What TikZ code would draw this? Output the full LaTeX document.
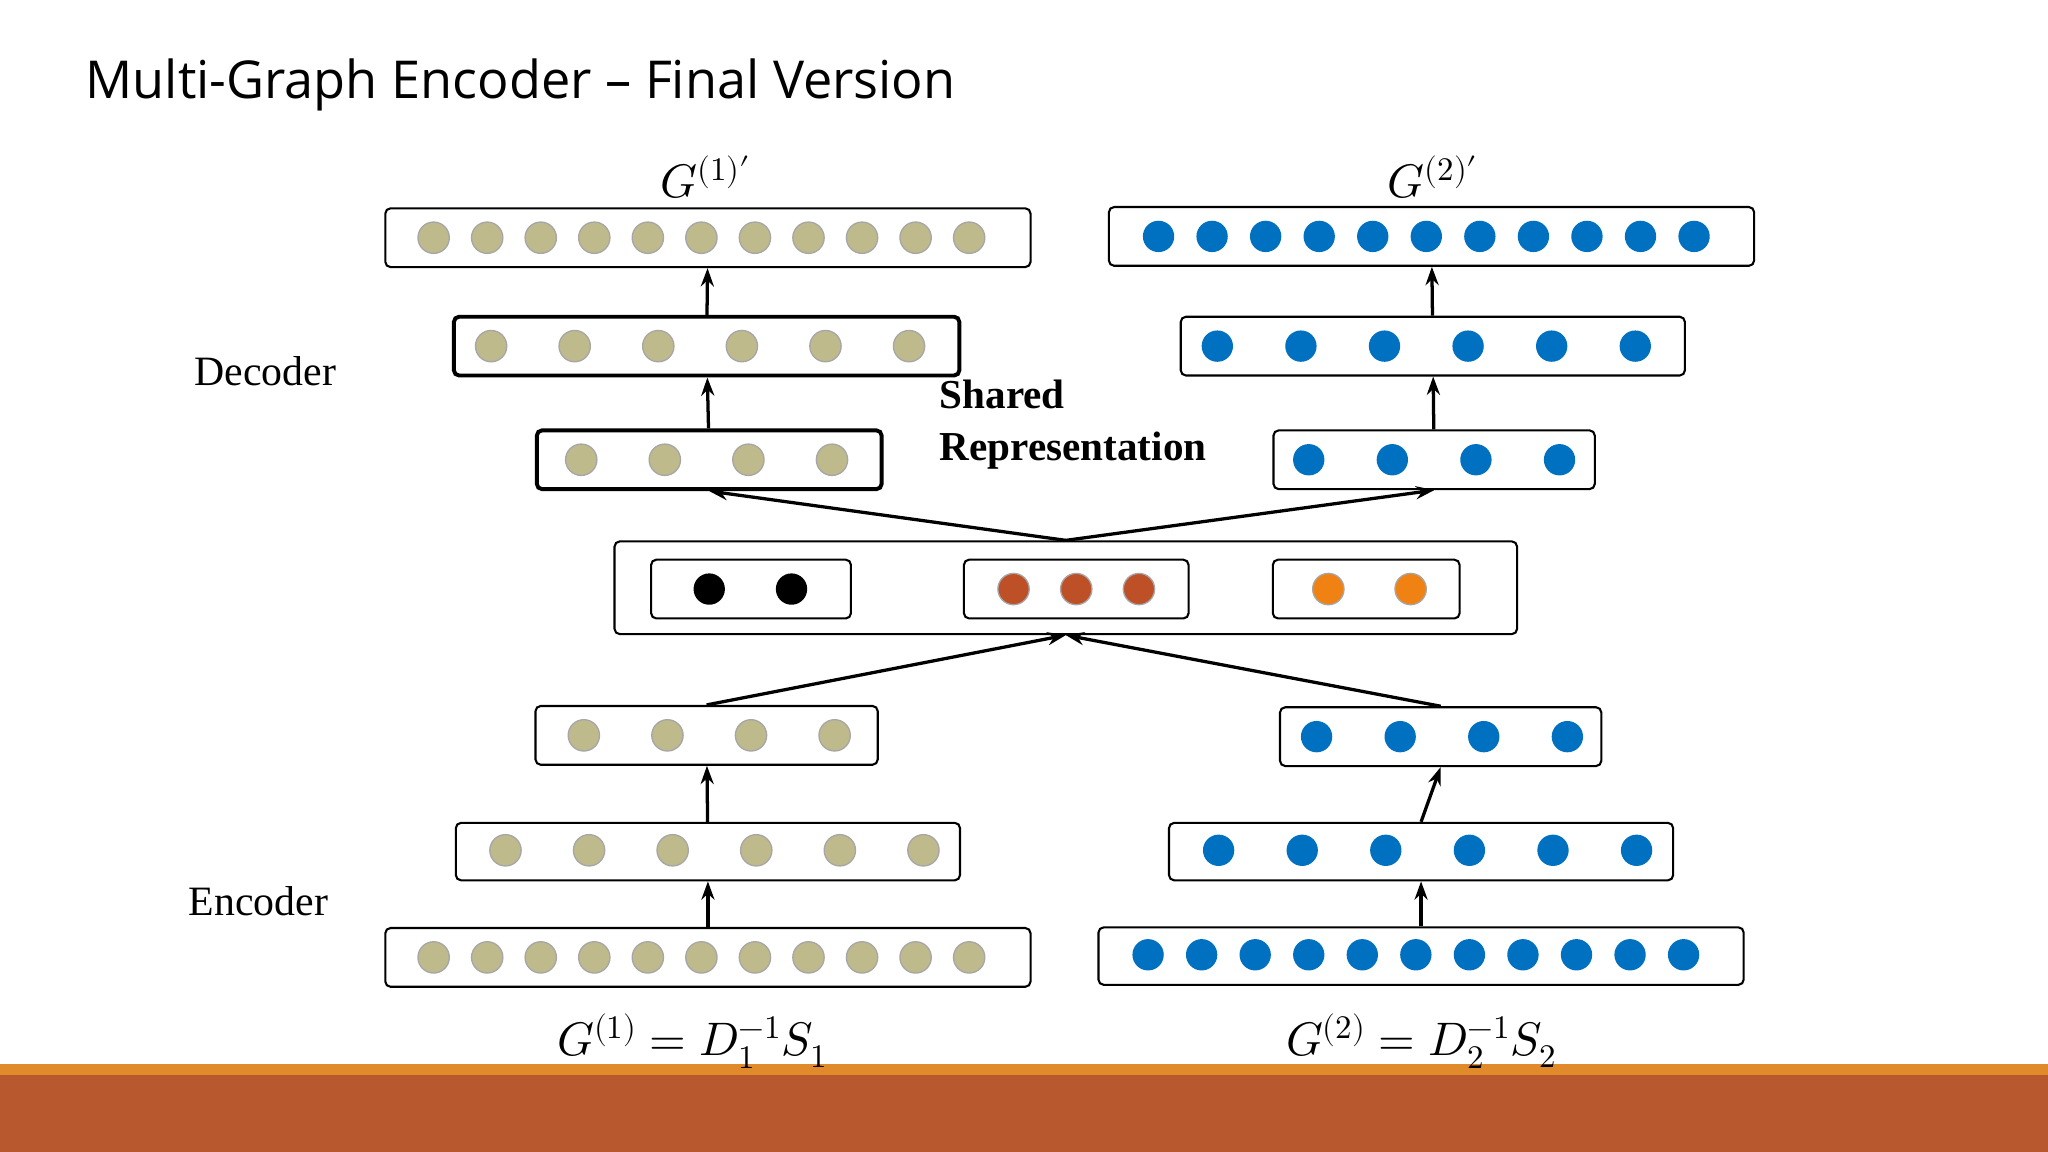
\documentclass[tikz,border=0pt]{standalone}
\usepackage{fontspec}
\usepackage{unicode-math}
\setmainfont{Liberation Serif}
\setmathfont{Latin Modern Math}
\newfontfamily\titlefont{Open Sans}
\usetikzlibrary{arrows.meta,
                positioning
                }
\definecolor{olive}{RGB}{190,186,140}
\definecolor{nblue}{RGB}{0,112,192}
\definecolor{nbrown}{RGB}{190,80,40}
\definecolor{norange}{RGB}{240,130,20}
\definecolor{barorange}{RGB}{224,138,44}
\definecolor{barbrown}{RGB}{184,88,46}
% row of circles: centre y, first x, step, count, style
\newcommand\dotrow[5]{\foreach \i in {1,...,#4}
    \fill[#5] ({#2+(\i-1)*#3},#1) circle (12);}
\begin{document}
\begin{tikzpicture}[x=1pt, y=-1pt,
     box/.style = {draw, rounded corners=4pt, line width=1.6pt, inner sep=0pt},
    tbox/.style = {box, line width=3pt},
     gdt/.style = {draw=gray!70, line width=1pt, fill=olive},
     bdt/.style = {fill=nblue},
     arr/.style = {-{Stealth[length=14pt, width=10pt]}, line width=2.5pt},
     lbl/.style = {font=\fontsize{32}{36}\selectfont},
     mth/.style = {font=\fontsize{36}{40}\selectfont}
      ]
    \fill[white] (0,0) rectangle (1568,882);
    \useasboundingbox (0,0) rectangle (1568,882);
    % bottom bar
    \fill[barorange] (0,815) rectangle (1568,823);
    \fill[barbrown] (0,823) rectangle (1568,882);
    \node[anchor=west, font=\titlefont\fontsize{40}{44}\selectfont] (title) at (62,65) {Multi-Graph Encoder – Final Version};
    % left column
    \node (lt) [box, minimum width=494pt, minimum height=45pt] at (542,182) {};
    \node (ld2) [tbox, minimum width=387pt, minimum height=45pt] at (541,265) {};
    \node (ld1) [tbox, minimum width=264pt, minimum height=45pt] at (543,352) {};
    \node (le3) [box, minimum width=262pt, minimum height=45pt] at (541,563) {};
    \node (le2) [box, minimum width=386pt, minimum height=44pt] at (542,652) {};
    \node (le1) [box, minimum width=494pt, minimum height=45pt] at (542,733) {};
    \dotrow{182}{332}{41}{11}{gdt}
    \dotrow{265}{376}{64}{6}{gdt}
    \dotrow{352}{445}{64}{4}{gdt}
    \dotrow{563}{447}{64}{4}{gdt}
    \dotrow{651}{387}{64}{6}{gdt}
    \dotrow{733}{332}{41}{11}{gdt}
    % right column
    \node (rt) [box, minimum width=494pt, minimum height=45pt] at (1096,181) {};
    \node (rd2) [box, minimum width=386pt, minimum height=45pt] at (1097,265) {};
    \node (rd1) [box, minimum width=246pt, minimum height=45pt] at (1098,352) {};
    \node (re3) [box, minimum width=246pt, minimum height=45pt] at (1103,564) {};
    \node (re2) [box, minimum width=386pt, minimum height=44pt] at (1088,652) {};
    \node (re1) [box, minimum width=494pt, minimum height=44pt] at (1088,732) {};
    \dotrow{181}{887}{41}{11}{bdt}
    \dotrow{265}{932}{64}{6}{bdt}
    \dotrow{352}{1002}{64}{4}{bdt}
    \dotrow{564}{1008}{64}{4}{bdt}
    \dotrow{651}{933}{64}{6}{bdt}
    \dotrow{731}{879}{41}{11}{bdt}
    % shared representation
    \node (mid) [box, minimum width=691pt, minimum height=71pt] at (816,450) {};
    \node (mk) [box, minimum width=153pt, minimum height=45pt] at (575,451) {};
    \node (mb) [box, minimum width=172pt, minimum height=45pt] at (824,451) {};
    \node (mo) [box, minimum width=143pt, minimum height=45pt] at (1046,451) {};
    \dotrow{451}{543}{63}{2}{fill=black}
    \dotrow{451}{776}{48}{3}{draw=gray!70, line width=1pt, fill=nbrown}
    \dotrow{451}{1017}{63}{2}{draw=gray!70, line width=1pt, fill=norange}
    % connectors
    \draw[arr] (le1) -- (le2);
    \draw[arr] (le2) -- (le3);
    \draw[arr] (re1) -- (re2);
    \draw[arr] (re2.north) -- (re3.south);
    \draw[arr] (le3.north) -- (mid.south);
    \draw[arr] (re3.north) -- (mid.south);
    \draw[arr] (mid.north) -- (ld1.south);
    \draw[arr] (mid.north) -- (rd1.south);
    \draw[arr] (ld1) -- (ld2);
    \draw[arr] (ld2) -- (lt);
    \draw[arr] (rd1) -- (rd2);
    \draw[arr] (rd2) -- (rt);
    % labels
    \node (dec) [lbl] at (203,284) {Decoder};
    \node (enc) [lbl] at (198,690) {Encoder};
    \node (shr) [lbl, font=\bfseries\fontsize{31.5}{40}\selectfont, align=left, anchor=north west] at (716,287) {Shared\\Representation};
    \node (g1p) [mth] at (540,136) {$G^{(1)\prime}$};
    \node (g2p) [mth] at (1097,136) {$G^{(2)\prime}$};
    \node (g1) [mth] at (530,797) {$G^{(1)}=D_1^{-1}S_1$};
    \node (g2) [mth] at (1088,797) {$G^{(2)}=D_2^{-1}S_2$};
\end{tikzpicture}
\end{document}
